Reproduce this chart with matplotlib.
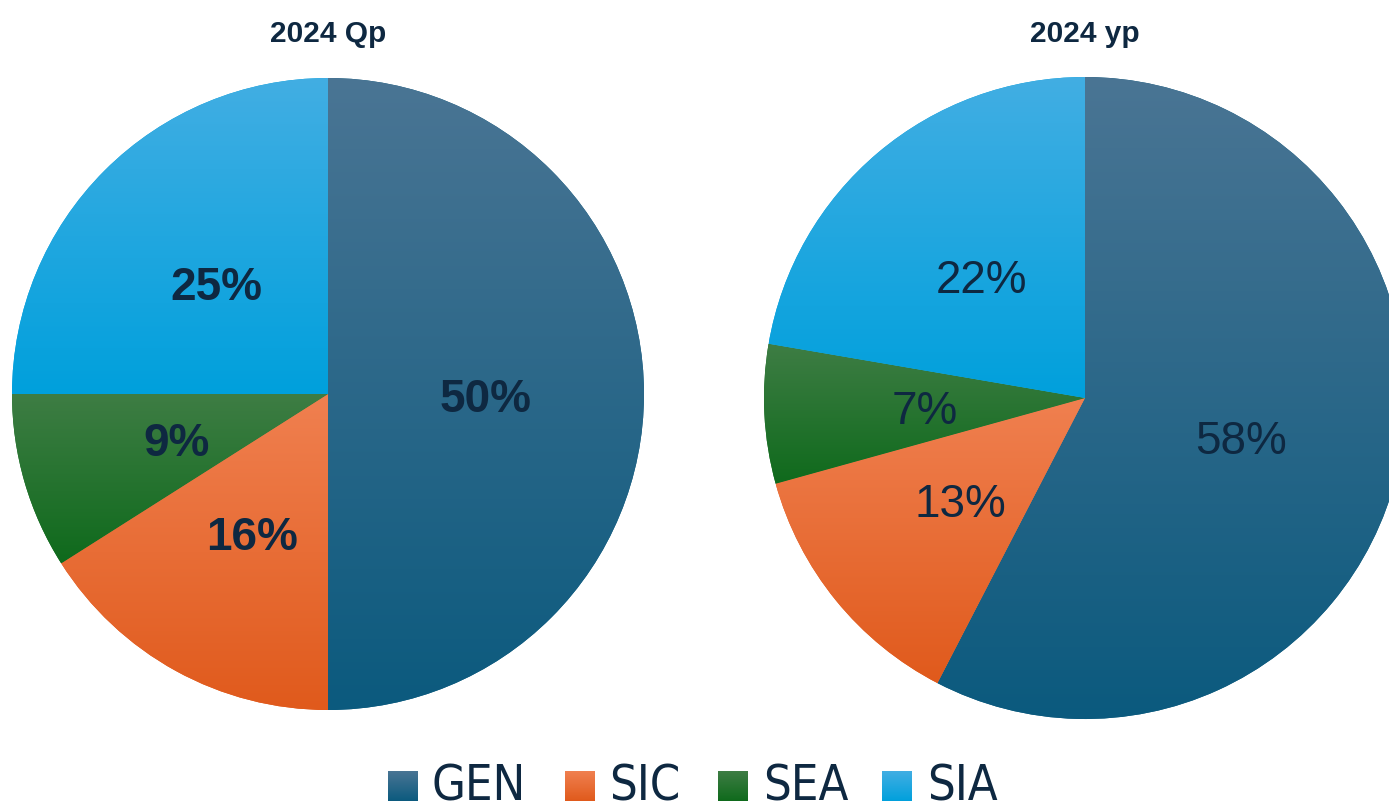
import matplotlib
matplotlib.use("Agg")
import matplotlib.pyplot as plt
import numpy as np
from matplotlib.colors import to_rgb
from matplotlib.patches import Rectangle

# ---- data ----
categories = ["GEN", "SIC", "SEA", "SIA"]
qp_values = [50, 16, 9, 25]
yp_values = [57.6, 13.1, 7.0, 22.3]
titles = ["2024 Qp", "2024 yp"]
top_colors = ["#4a7594", "#f08050", "#3e7d44", "#42aee3"]
bottom_colors = ["#0b5a7e", "#e05a1c", "#0f6a1c", "#00a0dc"]

TEXT = "#0e2841"
W, H = 1389, 804
fig = plt.figure(figsize=(W / 100, H / 100), dpi=100)
ax = fig.add_axes([0, 0, 1, 1])


def grad_img(top, bottom, n=256):
    t = np.linspace(0, 1, n)[:, None]
    a = np.array(to_rgb(top))[None, :]
    b = np.array(to_rgb(bottom))[None, :]
    return (a * (1 - t) + b * t).reshape(n, 1, 3)


def gradient_fill(patch, top, bottom, bb):
    im = ax.imshow(grad_img(top, bottom), extent=(bb.x0, bb.x1, bb.y0, bb.y1),
                   origin="upper", aspect="auto", interpolation="bilinear", zorder=2)
    im.set_clip_path(patch)


pies = [
    dict(values=qp_values, center=(328, H - 395), radius=316, weight="bold", title_x=328),
    dict(values=yp_values, center=(1085, H - 399), radius=321, weight="normal", title_x=1085),
]

for p, title in zip(pies, titles):
    wedges, texts, autotexts = ax.pie(
        p["values"], center=p["center"], radius=p["radius"], startangle=90,
        counterclock=False, colors=bottom_colors, autopct="%1.0f%%", pctdistance=0.5,
        wedgeprops=dict(linewidth=0), frame=True,
        textprops=dict(fontsize=33, color=TEXT, fontweight=p["weight"],
                       family=["Liberation Sans", "DejaVu Sans"]))
    for w, tc, bc in zip(wedges, top_colors, bottom_colors):
        bb = w.get_path().get_extents()
        gradient_fill(w, tc, bc, bb)
    for t in autotexts:
        t.set_zorder(5)
        t.set_va("center_baseline")
    ax.text(p["title_x"], H - 42, title, ha="center", va="baseline", fontsize=21.5,
            fontweight="bold", color=TEXT, family=["Liberation Sans", "DejaVu Sans"])

# ---- legend ----
sq_x = [388, 565, 718, 882]
tx_x = [432, 609, 763, 927]
sq_size = 30
for cat, sx, tx, tc, bc in zip(categories, sq_x, tx_x, top_colors, bottom_colors):
    r = Rectangle((sx, 2), sq_size, sq_size, facecolor=bc, linewidth=0, zorder=2)
    ax.add_patch(r)
    im = ax.imshow(grad_img(tc, bc), extent=(sx, sx + sq_size, 2, 2 + sq_size),
                   origin="upper", aspect="auto", interpolation="bilinear", zorder=3)
    im.set_clip_path(r)
    ax.text(tx, 3, cat, ha="left", va="baseline", fontsize=35, color=TEXT,
            family=["DejaVu Sans"], fontstretch="condensed")

ax.set_xlim(0, W)
ax.set_ylim(0, H)
ax.set_aspect("auto")
ax.axis("off")
fig.savefig("out.png", dpi=100)
